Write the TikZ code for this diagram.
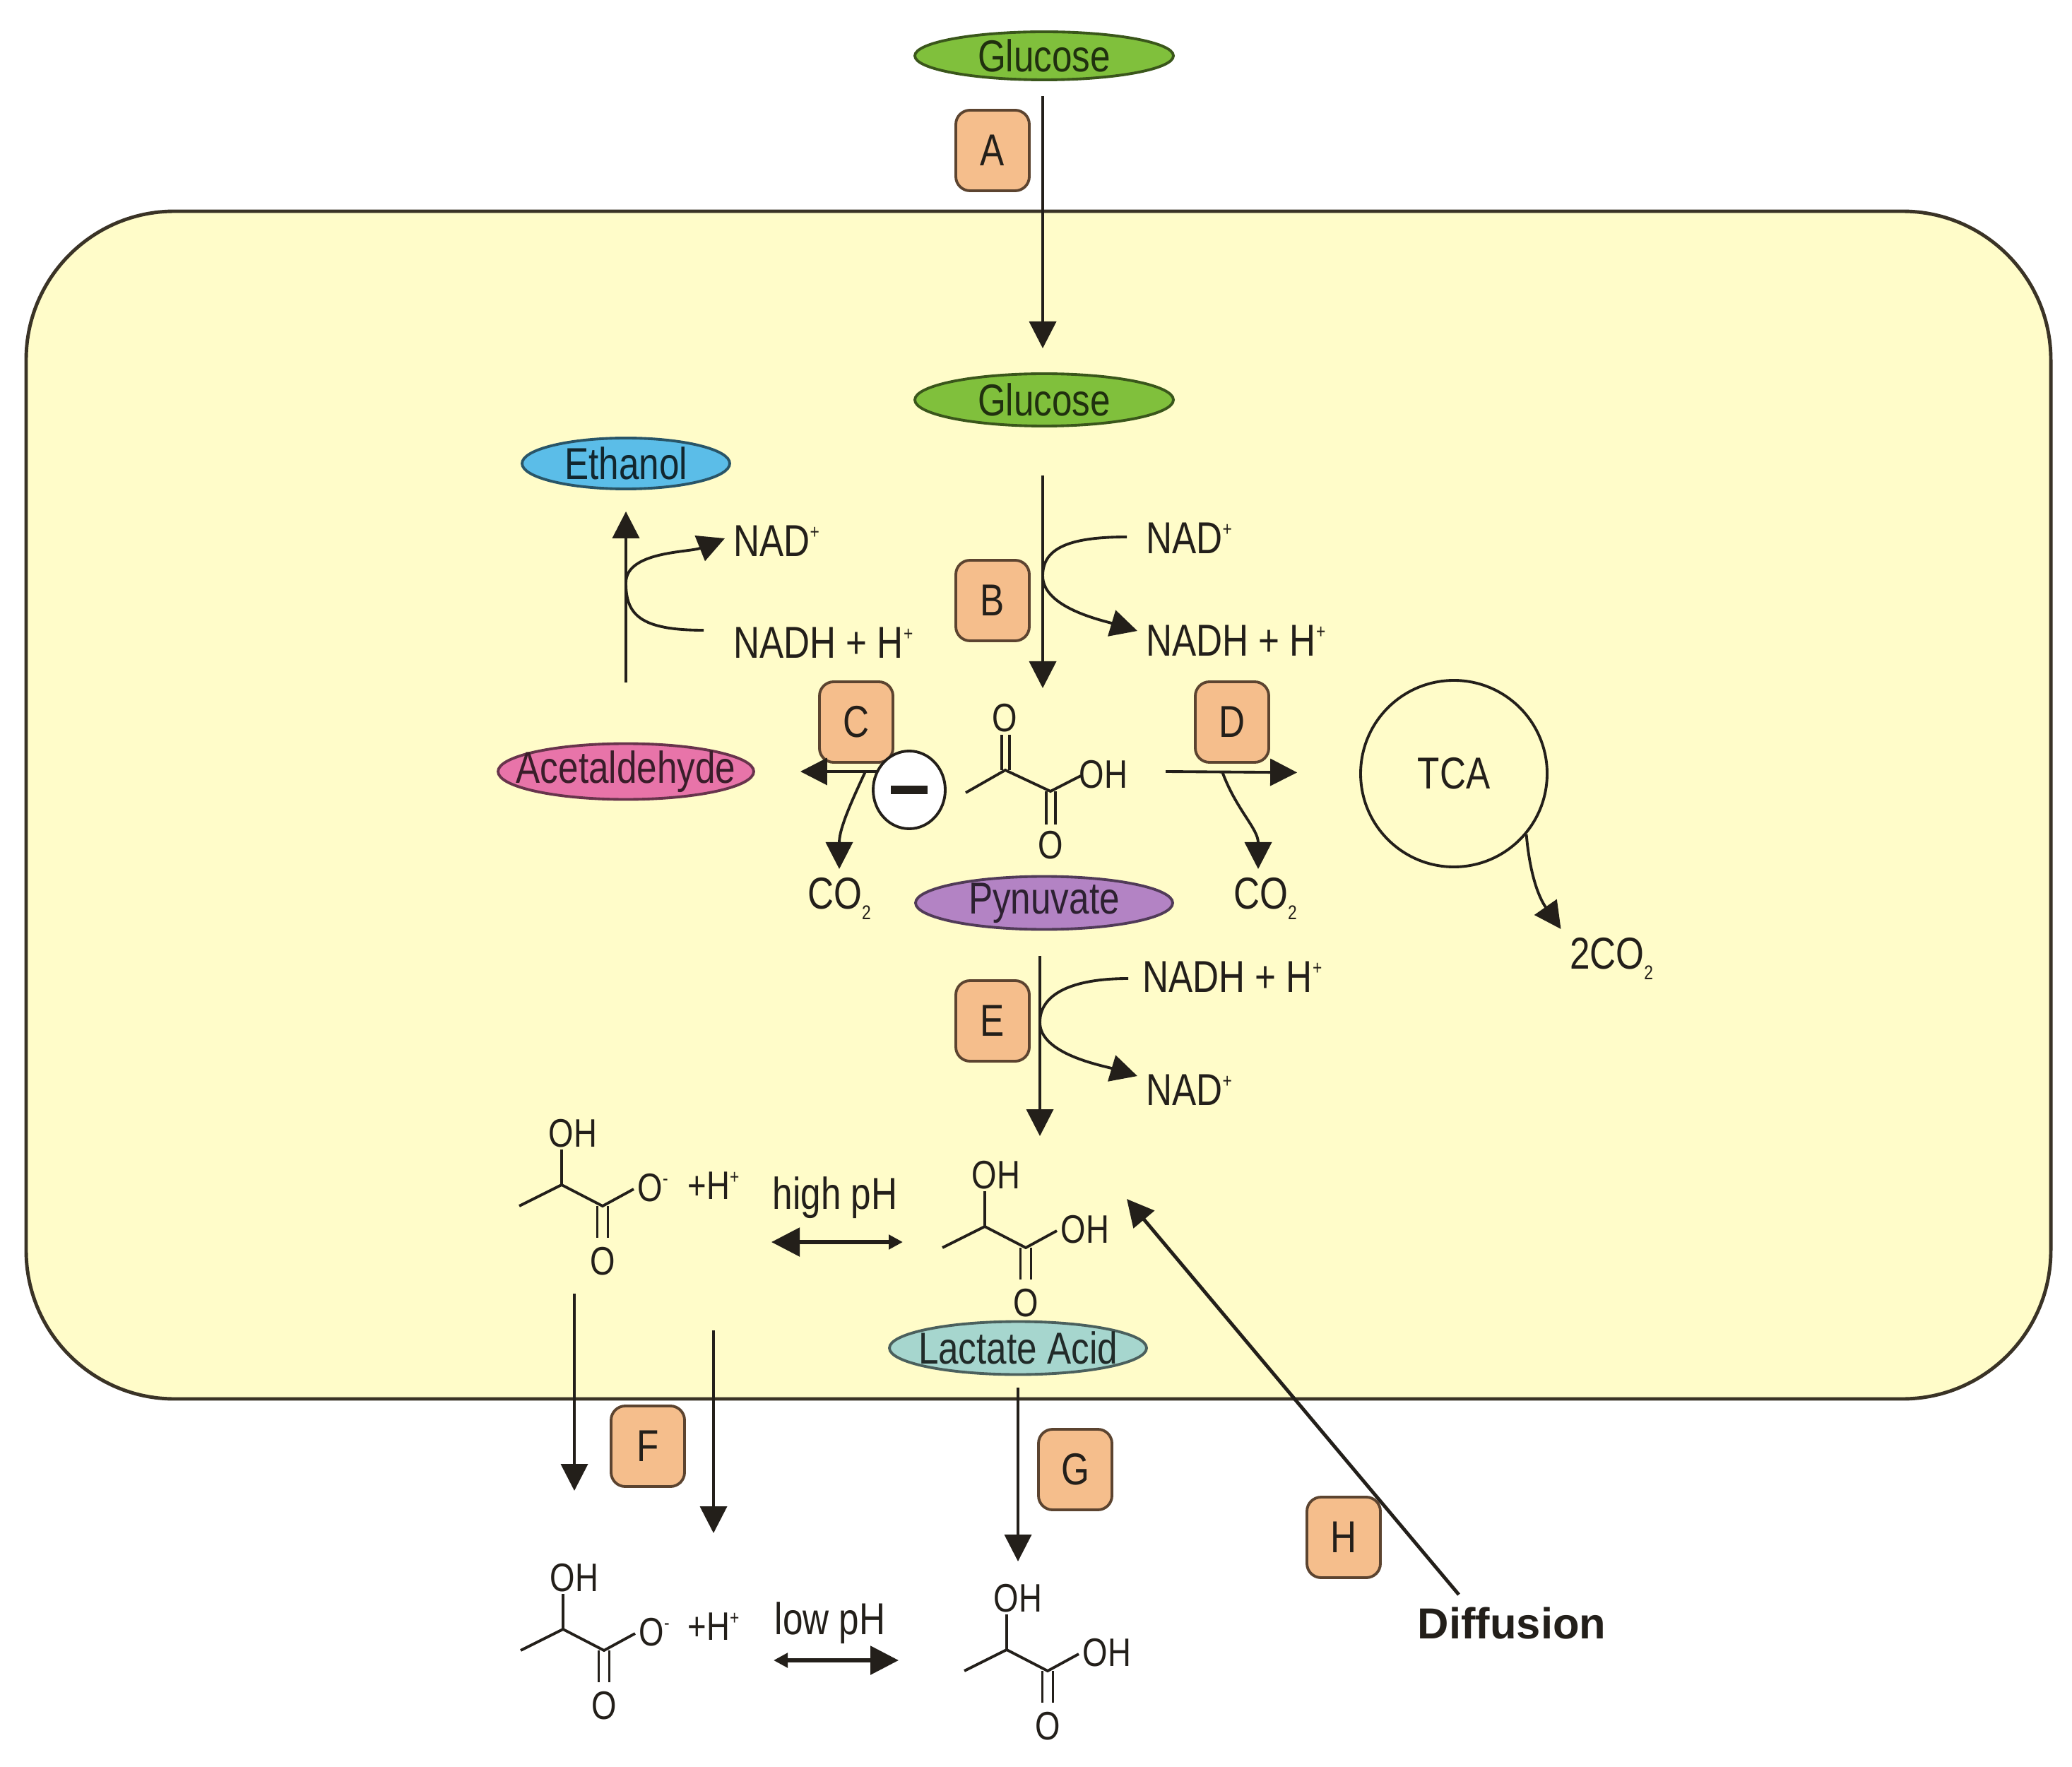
\documentclass[tikz,border=0pt]{standalone}
\usepackage{fontspec}
\setmainfont{Liberation Sans}[FakeStretch=0.81]
\newfontfamily\plainsans{Liberation Sans}
\usetikzlibrary{arrows.meta,shapes.geometric}

\definecolor{cellfill}{HTML}{FFFCC9}
\definecolor{cellline}{HTML}{3A3326}
\definecolor{boxfill}{HTML}{F5BE8C}
\definecolor{boxline}{HTML}{5C4430}
\definecolor{gluegreen}{HTML}{80C03C}
\definecolor{ethablue}{HTML}{5BBDE8}
\definecolor{acetpink}{HTML}{E874A9}
\definecolor{pyrpurple}{HTML}{B383C4}
\definecolor{lactteal}{HTML}{A6D6CE}
\definecolor{inktext}{HTML}{231F1A}

\newcommand{\upplus}{\raisebox{0.75ex}{\fontsize{8}{9}\selectfont +}}
\newcommand{\upminus}{\raisebox{0.75ex}{\fontsize{8}{9}\selectfont -}}
\newcommand{\subtwo}{\raisebox{-0.45ex}{\fontsize{8}{9}\selectfont 2}}

\tikzset{
  arr/.style={line width=1.1pt, draw=inktext, -{Triangle[width=0.38cm,length=0.38cm]}},
  bond/.style={line width=1.1pt, draw=inktext},
  enzyme/.style={draw=boxline, line width=1.1pt, fill=boxfill, rounded corners=0.2cm,
    minimum width=1.04cm, minimum height=1.14cm, text=inktext},
  metab/.style={ellipse, draw=#1!45!black, fill=#1, line width=1.1pt, inner sep=0pt},
  mol/.style={inner sep=0pt, text=inktext, font=\fontsize{16}{18}\selectfont},
  pics/lactate/.style={code={
    \draw[bond] (-0.60,-0.30) -- (0,0) -- (0.58,-0.30) -- (1.02,-0.06);
    \draw[bond] (0,0) -- (0,0.50);
    \draw[bond] (0.505,-0.30) -- (0.505,-0.75) (0.655,-0.30) -- (0.655,-0.75);
    \node[mol, anchor=south west] (-oh) at (-0.19,0.52) {OH};
    \node[mol, anchor=base west] (-r) at (1.07,-0.23) {#1};
    \node[mol, anchor=north] (-o) at (0.58,-0.88) {O};
  }}
}

\begin{document}
\begin{tikzpicture}[font=\fontsize{18}{21}\selectfont, text=inktext]
  \useasboundingbox (0,0) rectangle (29.33,-25.01);

  % Draw the cell
  \draw[draw=cellline, fill=cellfill, line width=1.4pt, rounded corners=2.1cm]
    (0.37,-2.99) rectangle (29.03,-19.80);

  % Glucose uptake
  \node[metab=gluegreen, minimum width=3.66cm, minimum height=0.68cm,
    label={[text=gluegreen!25!black]center:Glucose}] (gluout) at (14.78,-0.79) {};
  \node[enzyme] (ea) at (14.05,-2.13) {A};
  \node[metab=gluegreen, minimum width=3.66cm, minimum height=0.74cm,
    label={[text=gluegreen!25!black]center:Glucose}] (gluin) at (14.78,-5.66) {};
  \coordinate (gluoutb) at (14.76,-1.13);
  \coordinate (gluint) at (14.76,-5.29);
  \draw[arr, shorten <=0.23cm, shorten >=0.36cm] (gluoutb) -- (gluint);

  % Glycolysis to pyruvate
  \node[enzyme] (eb) at (14.05,-8.50) {B};
  \coordinate (gluinb) at (14.76,-6.03);
  \coordinate (pyrtop) at (14.76,-9.74);
  \draw[arr, shorten <=0.70cm] (gluinb) -- (pyrtop);
  \node[anchor=west] (nadb) at (16.10,-7.62) {NAD\upplus};
  \node[anchor=west] (nadhb) at (16.10,-9.07) {NADH + H\upplus};
  \coordinate (kinkb) at (14.76,-8.15);
  \draw[arr] ([xshift=-0.15cm,yshift=0.02cm]nadb.west) .. controls +(-0.8,0) and +(0,0.4) .. (kinkb)
    .. controls +(0,-0.45) and +(-0.5,0.15) .. ([yshift=0.14cm]nadhb.west);

  % Pyruvate
  \draw[bond] (13.67,-11.22) -- (14.23,-10.90) -- (14.87,-11.20) -- (15.30,-10.98);
  \draw[bond] (14.18,-10.90) -- (14.18,-10.40) (14.29,-10.90) -- (14.29,-10.40);
  \draw[bond] (14.81,-11.20) -- (14.81,-11.67) (14.94,-11.20) -- (14.94,-11.67);
  \node[mol, anchor=south] (pyro) at (14.22,-10.37) {O};
  \node[mol, anchor=base west] (pyroh) at (15.27,-11.15) {OH};
  \node[mol, anchor=north] (pyrob) at (14.87,-11.76) {O};
  \node[metab=pyrpurple, minimum width=3.64cm, minimum height=0.75cm,
    label={[text=pyrpurple!25!black]center:Pynuvate}] (pyr) at (14.78,-12.78) {};

  % Pyruvate to acetaldehyde and ethanol
  \node[metab=acetpink, minimum width=3.62cm, minimum height=0.79cm,
    label={[text=acetpink!25!black]center:Acetaldehyde}] (acet) at (8.86,-10.92) {};
  \node[metab=ethablue, minimum width=2.94cm, minimum height=0.72cm,
    label={[text=ethablue!20!black]center:Ethanol}] (etoh) at (8.86,-6.56) {};
  \draw[arr, shorten <=0.85cm, shorten >=0.30cm] (acet) -- (etoh);
  \node[anchor=west] (nadl) at (10.26,-7.66) {NAD\upplus};
  \node[anchor=west] (nadhl) at (10.26,-9.10) {NADH + H\upplus};
  \coordinate (kinkl) at (8.86,-8.25);
  \draw[arr] ([xshift=-0.3cm,yshift=0.18cm]nadhl.west) .. controls +(-0.9,0) and +(0,-0.45) .. (kinkl)
    .. controls +(0,0.45) and +(-0.5,-0.2) .. ([yshift=0.04cm]nadl.west);
  \node[enzyme] (ec) at (12.12,-10.22) {C};
  \coordinate (cstart) at (12.45,-10.92);
  \draw[arr, shorten >=0.64cm] (cstart) -- (acet);
  \node (co2l) at (11.88,-12.72) {CO\subtwo};
  \coordinate (ccurve) at (12.25,-10.92);
  \draw[arr] (ccurve) to[out=-115, in=90] (co2l.north);
  \node[ellipse, draw=inktext, fill=white, line width=1.1pt, minimum width=1.02cm,
    minimum height=1.1cm, inner sep=0pt] (inhib) at (12.87,-11.18) {\rule{0.52cm}{0.12cm}};

  % Pyruvate to TCA cycle
  \node[enzyme] (ed) at (17.44,-10.22) {D};
  \node[circle, draw=inktext, line width=1.1pt, minimum size=2.64cm] (tca) at (20.58,-10.95) {TCA};
  \coordinate (dstart) at (16.50,-10.92);
  \draw[arr, shorten >=0.88cm] (dstart) -- (tca);
  \node (co2r) at (17.91,-12.72) {CO\subtwo};
  \coordinate (dcurve) at (17.30,-10.92);
  \draw[arr] (dcurve) to[out=-70, in=90] ([xshift=-0.1cm]co2r.north);
  \node (co2t) at (22.81,-13.57) {2CO\subtwo};
  \draw[arr] (tca.-40) to[out=-85, in=125] (co2t.north west);

  % Pyruvate to lactate
  \node[enzyme] (ee) at (14.05,-14.45) {E};
  \coordinate (pyrb) at (14.72,-13.16);
  \coordinate (lacttop) at (14.72,-16.08);
  \draw[arr, shorten <=0.37cm] (pyrb) -- (lacttop);
  \node[anchor=west] (nadhe) at (16.05,-13.83) {NADH + H\upplus};
  \node[anchor=west] (nade) at (16.10,-15.43) {NAD\upplus};
  \coordinate (kinke) at (14.72,-14.47);
  \draw[arr] ([xshift=-0.08cm,yshift=-0.02cm]nadhe.west) .. controls +(-0.8,0) and +(0,0.4) .. (kinke)
    .. controls +(0,-0.45) and +(-0.5,0.15) .. ([yshift=0.2cm]nade.west);

  % Lactate inside the cell
  \pic (laca) at (7.95,-16.77) {lactate={O\upminus}};
  \node[mol] (hpa) at (10.10,-16.78) {+H\upplus};
  \node (highph) at (11.82,-16.95) {high pH};
  \coordinate (hpl) at (10.92,-17.58);
  \coordinate (hpr) at (12.78,-17.58);
  \draw[line width=1.6pt, draw=inktext, {Triangle[width=0.4cm,length=0.4cm]}-{Triangle[width=0.2cm,length=0.2cm]}] (hpl) -- (hpr);
  \pic (lacb) at (13.94,-17.36) {lactate={OH}};
  \node[metab=lactteal, minimum width=3.64cm, minimum height=0.75cm,
    label={[text=lactteal!20!black]center:Lactate Acid}] (lact) at (14.41,-19.08) {};

  % Export out of the cell
  \node[enzyme] (ef) at (9.17,-20.47) {F};
  \coordinate (fleft) at (8.13,-21.10);
  \draw[arr] ([xshift=-0.40cm,yshift=-0.25cm]laca-o.south) -- (fleft);
  \coordinate (fright) at (10.15,-21.70);
  \draw[arr, shorten <=1.85cm] (hpa) -- (hpa |- fright);
  \node[enzyme] (eg) at (15.22,-20.80) {G};
  \coordinate (gend) at (14.41,-22.10);
  \draw[arr, shorten <=0.17cm] (lact) -- (gend);

  % Lactate outside the cell
  \pic (lacc) at (7.97,-23.06) {lactate={O\upminus}};
  \node[mol] (hpc) at (10.10,-23.02) {+H\upplus};
  \node (lowph) at (11.75,-22.97) {low pH};
  \coordinate (lpl) at (10.95,-23.50);
  \coordinate (lpr) at (12.72,-23.50);
  \draw[line width=1.6pt, draw=inktext, {Triangle[width=0.2cm,length=0.2cm]}-{Triangle[width=0.4cm,length=0.4cm]}] (lpl) -- (lpr);
  \pic (lacd) at (14.25,-23.35) {lactate={OH}};

  % Diffusion back into the cell
  \node[font=\plainsans\bfseries\fontsize{17.5}{20}\selectfont] (diff) at (21.40,-22.97) {Diffusion};
  \node[enzyme] (eh) at (19.02,-21.76) {H};
  \coordinate (hend) at (15.95,-16.97);
  \draw[arr, line width=1.4pt] ([xshift=-0.75cm,yshift=0.05cm]diff.north) -- (hend);
\end{tikzpicture}
\end{document}
